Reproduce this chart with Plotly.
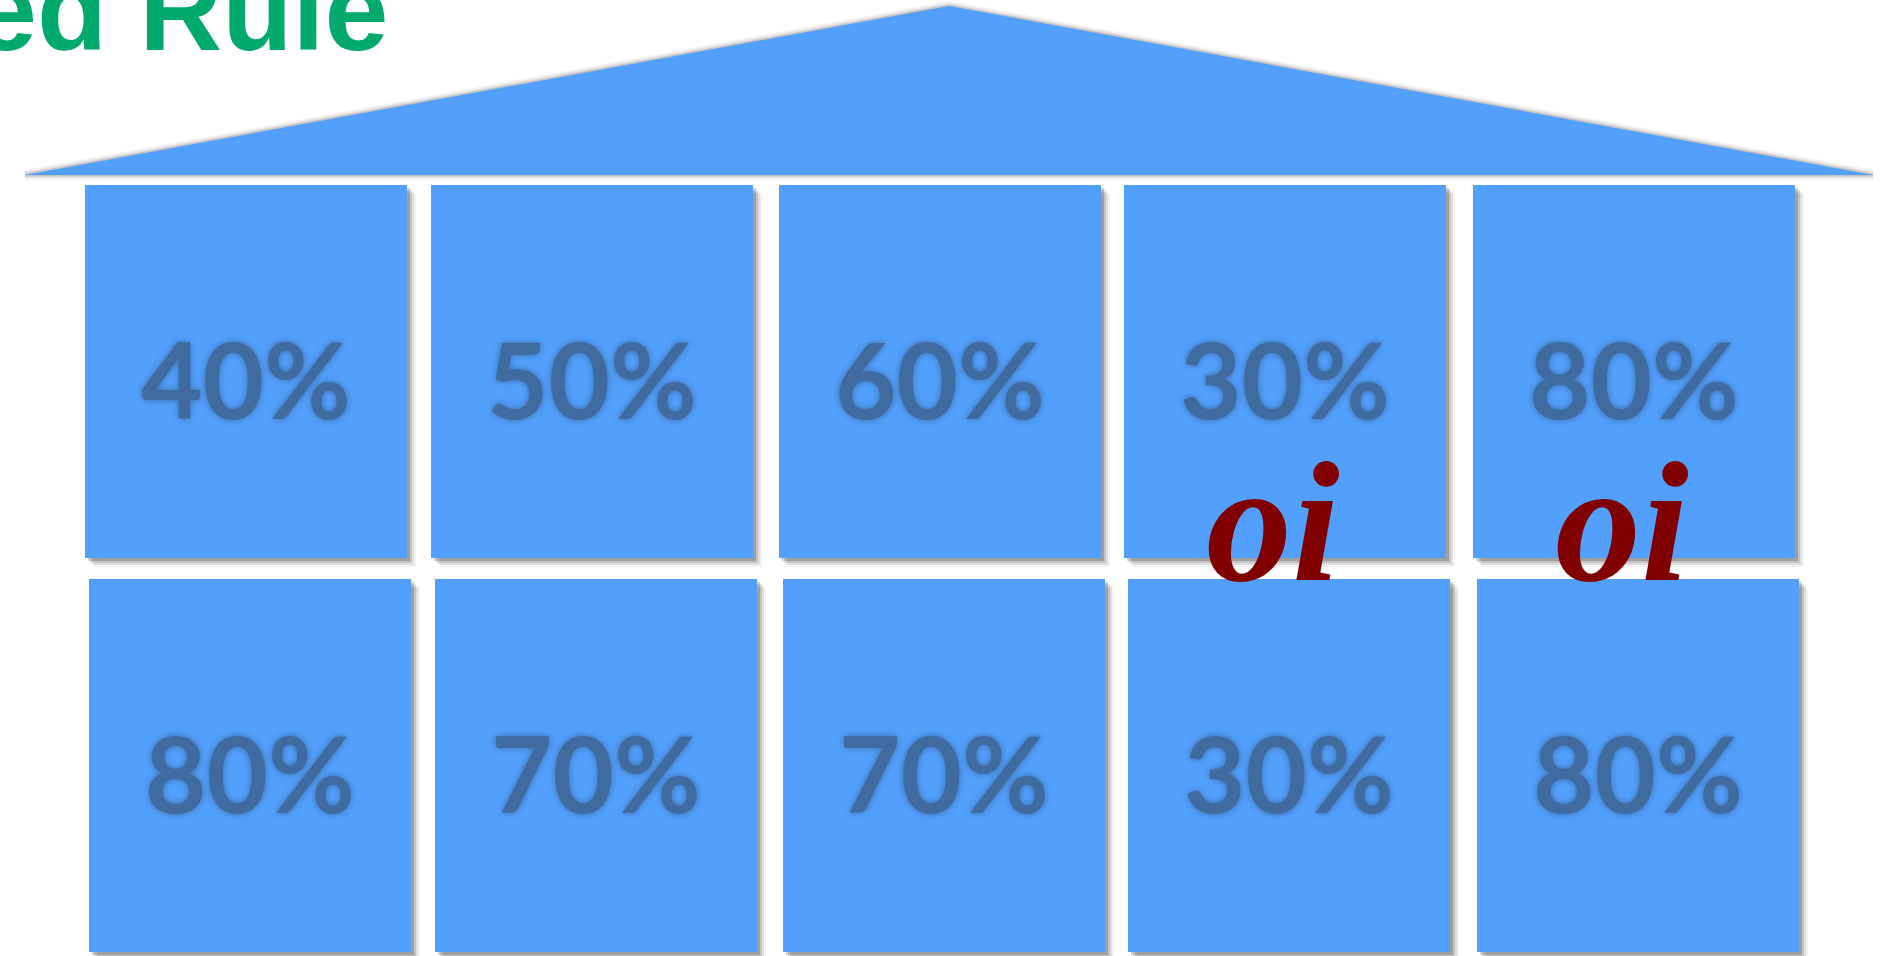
import plotly.graph_objects as go

# ---- data ----
title_text = "ed Rule"
row1_labels = ["40%", "50%", "60%", "30%", "80%"]
row2_labels = ["80%", "70%", "70%", "30%", "80%"]
oi_labels = ["", "", "", "oi", "oi"]

# ---- layout constants (pixel space) ----
W, H = 1895, 956
row1_left = [85, 431, 779, 1124, 1473]
row2_left = [89, 435, 783, 1128, 1477]
BOX_W, BOX_H = 322, 373
ROW1_TOP, ROW2_TOP = 185, 579
ROOF = [(25, 175), (949, 6), (1873, 175)]

BOX_COLOR = "#529FFC"
TEXT_COLOR = "#3F6BA0"
OI_COLOR = "#800000"
TITLE_COLOR = "#02A96C"

fig = go.Figure()
fig.add_trace(go.Scatter(x=[0, W], y=[0, H], mode="markers",
                         marker=dict(opacity=0), hoverinfo="skip", showlegend=False))

shapes = []
# roof shadow + roof
path = "M {} {} L {} {} L {} {} Z".format(*ROOF[0], *ROOF[1], *ROOF[2])
for w, a in [(10, 0.05), (6, 0.08), (3, 0.12)]:
    shapes.append(dict(type="path", path=path, xref="x", yref="y",
                       fillcolor="rgba(0,0,0,0)", line=dict(color="rgba(0,0,0,%s)" % a, width=w),
                       layer="below"))
shapes.append(dict(type="path", path=path, xref="x", yref="y",
                   fillcolor=BOX_COLOR, line=dict(width=0), layer="below"))

annotations = []

def add_box(x0, y0, label):
    # soft shadow
    for off, a in [(9, 0.05), (7, 0.08), (5, 0.12), (3, 0.18)]:
        shapes.append(dict(type="rect", xref="x", yref="y",
                           x0=x0 + off, x1=x0 + BOX_W + off, y0=y0 + off, y1=y0 + BOX_H + off,
                           fillcolor="rgba(0,0,0,%s)" % a, line=dict(width=0), layer="below"))
    shapes.append(dict(type="rect", xref="x", yref="y",
                       x0=x0, x1=x0 + BOX_W, y0=y0, y1=y0 + BOX_H,
                       fillcolor=BOX_COLOR, line=dict(width=0), layer="below"))
    annotations.append(dict(x=x0 + BOX_W / 2, y=y0 + BOX_H / 2 + 6, xref="x", yref="y",
                            text=label, showarrow=False, xanchor="center", yanchor="middle",
                            font=dict(family="Lato", size=106, color=TEXT_COLOR, weight="bold",
                                      shadow="0px 0px 6px " + TEXT_COLOR)))

for x0, lab in zip(row1_left, row1_labels):
    add_box(x0, ROW1_TOP, lab)
for x0, lab in zip(row2_left, row2_labels):
    add_box(x0, ROW2_TOP, lab)

for x0, lab in zip(row1_left, oi_labels):
    if lab:
        annotations.append(dict(x=x0 + BOX_W / 2 - 12, y=ROW1_TOP + BOX_H - 36, xref="x", yref="y",
                                text="<b><i>%s</i></b>" % lab, showarrow=False,
                                xanchor="center", yanchor="middle",
                                font=dict(family="Liberation Serif", size=172, color=OI_COLOR)))

annotations.append(dict(x=390, y=76, xref="x", yref="y", text="<b>%s</b>" % title_text,
                        showarrow=False, xanchor="right", yanchor="bottom",
                        font=dict(family="Liberation Sans", size=115, color=TITLE_COLOR)))

fig.update_layout(
    width=W, height=H, margin=dict(l=0, r=0, t=0, b=0),
    paper_bgcolor="white", plot_bgcolor="white",
    xaxis=dict(range=[0, W], visible=False, fixedrange=True),
    yaxis=dict(range=[H, 0], visible=False, fixedrange=True),
    shapes=shapes, annotations=annotations, showlegend=False,
)
fig.write_html("out.html", config={"displayModeBar": False})
